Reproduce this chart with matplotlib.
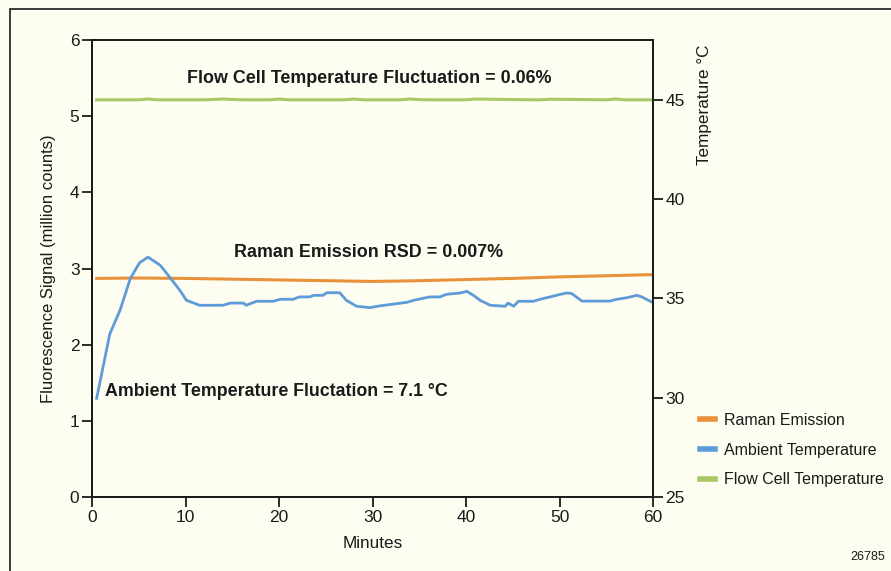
import numpy as np
import matplotlib
matplotlib.use("Agg")
import matplotlib.pyplot as plt
from matplotlib.patches import Rectangle

plt.rcParams['font.family'] = ['Liberation Sans Narrow', 'Liberation Sans', 'DejaVu Sans']

# ambient temperature (deg C, right axis)
amb_min = [0.5, 1.9, 3.0, 4.1, 5.1, 6.0, 7.3, 8.3, 9.4, 10.1, 11.5, 14.0, 14.8, 16.2, 16.5,
           17.6, 19.4, 20.1, 21.5, 22.2, 23.3, 23.7, 24.7, 25.1, 26.5, 27.2, 28.3, 29.7,
           30.8, 33.7, 34.4, 36.1, 37.2, 37.9, 39.4, 40.1, 40.8, 41.5, 42.6, 44.2, 44.5,
           45.1, 45.6, 47.2, 47.9, 49.0, 50.1, 50.8, 51.3, 52.4, 55.4, 56.1, 57.2, 58.3,
           58.8, 59.5, 60.0]
amb_temp = [29.97, 33.2, 34.4, 36.0, 36.8, 37.07, 36.66, 36.07, 35.4, 34.9, 34.65, 34.65,
            34.76, 34.76, 34.65, 34.85, 34.85, 34.95, 34.95, 35.07, 35.07, 35.15, 35.15,
            35.28, 35.28, 34.9, 34.6, 34.53, 34.62, 34.8, 34.9, 35.07, 35.07, 35.2, 35.27,
            35.35, 35.15, 34.9, 34.65, 34.6, 34.76, 34.6, 34.85, 34.85, 34.95, 35.07, 35.2,
            35.27, 35.24, 34.86, 34.86, 34.95, 35.03, 35.15, 35.07, 34.9, 34.78]

# Raman emission (million counts, left axis)
raman_min = [0.5, 5, 10, 15, 20, 25, 30, 35, 40, 45, 50, 55, 60]
raman_sig = [2.87, 2.875, 2.87, 2.86, 2.85, 2.84, 2.83, 2.84, 2.855, 2.87, 2.89, 2.905, 2.92]

# flow cell temperature (deg C, right axis)
flow_min = [0.5, 5, 6, 7, 12, 14, 16, 19, 20, 21, 27, 28, 29, 33, 34, 35, 36, 40, 41, 47,
            48, 49, 55, 56, 57, 60]
flow_temp = [44.99, 44.99, 45.03, 44.99, 44.99, 45.03, 44.99, 44.99, 45.03, 44.99, 44.99,
             45.03, 44.99, 44.99, 45.03, 45.0, 44.99, 44.99, 45.03, 44.99, 44.99, 45.02,
             44.99, 45.03, 44.99, 44.99]

orange = '#E8913A'
blue = '#5E9BD9'
green = '#A8C865'
bg = '#FDFDF2'
ink = '#1a1a1a'

fig = plt.figure(figsize=(8.91, 5.71), dpi=100, facecolor=bg)
fig.patches.append(Rectangle((10 / 891, -0.1), 1.2, (571 - 9) / 571 + 0.1,
                             transform=fig.transFigure, fill=False, ec=ink, lw=1.2))

ax = fig.add_axes([92 / 891, 74 / 571, 561 / 891, 457 / 571])
ax.set_facecolor(bg)
ax2 = ax.twinx()

ax.plot(raman_min, raman_sig, color=orange, lw=2.2, zorder=3)
ax2.plot(amb_min, amb_temp, color=blue, lw=2.0)
ax2.plot(flow_min, flow_temp, color=green, lw=2.2)

ax.set_xlim(0, 60)
ax.set_ylim(0, 6)
ax2.set_ylim(25, 48)
ax.set_xticks(range(0, 61, 10))
ax.set_yticks(range(0, 7))
ax2.set_yticks([25, 30, 35, 40, 45])

for a in (ax, ax2):
    for s in a.spines.values():
        s.set_color(ink)
        s.set_linewidth(1.3)
    a.tick_params(direction='out', length=7, width=1.3, color=ink, labelsize=12.5,
                  labelcolor=ink, pad=2)

ax.set_xlabel('Minutes', fontsize=12.3, color=ink, labelpad=8)
ax.set_ylabel('Fluorescence Signal (million counts)', fontsize=12, color=ink, labelpad=10)
fig.text(705 / 891, 1 - 105 / 571, 'Temperature °C', rotation=90, fontsize=12.3,
         color=ink, ha='center', va='center')

ax.text(29.6, 5.5, 'Flow Cell Temperature Fluctuation = 0.06%', fontsize=12.9,
        fontweight='bold', ha='center', va='center', color=ink)
ax.text(29.6, 3.21, 'Raman Emission RSD = 0.007%', fontsize=12.9,
        fontweight='bold', ha='center', va='center', color=ink)
ax.text(1.35, 1.38, 'Ambient Temperature Fluctation = 7.1 °C', fontsize=12.8,
        fontweight='bold', ha='left', va='center', color=ink)

handles = [plt.Line2D([], [], color=c, lw=4) for c in (orange, blue, green)]
fig.legend(handles, ['Raman Emission', 'Ambient Temperature', 'Flow Cell Temperature'],
           loc='center left', bbox_to_anchor=(700 / 891, 1 - 450 / 571), frameon=False,
           fontsize=11.5, handlelength=0.95, handletextpad=0.55, labelspacing=0.92,
           borderpad=0, borderaxespad=0, labelcolor=ink)

fig.text(885 / 891, 1 - 557 / 571, '26785', fontsize=9, ha='right', va='center', color=ink)

fig.savefig('out.png', dpi=100, facecolor=bg)
